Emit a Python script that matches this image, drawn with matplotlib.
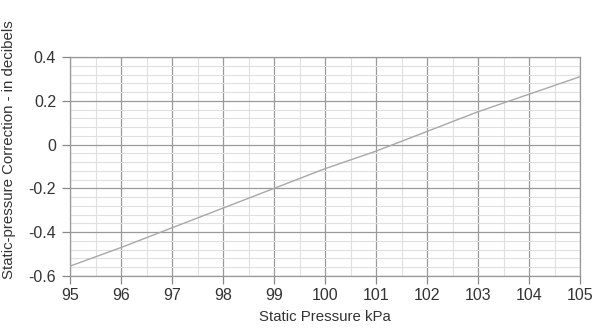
import matplotlib
matplotlib.use("Agg")
import matplotlib.pyplot as plt
from matplotlib.ticker import MultipleLocator

pressure = [95, 96, 97, 98, 99, 100, 101, 102, 103, 104, 105]
correction = [-0.555, -0.47, -0.38, -0.29, -0.20, -0.11, -0.03, 0.06, 0.15, 0.23, 0.31]
x_ticks = [95, 96, 97, 98, 99, 100, 101, 102, 103, 104, 105]
y_ticks = [-0.6, -0.4, -0.2, 0, 0.2, 0.4]
y_tick_labels = ["-0.6", "-0.4", "-0.2", "0", "0.2", "0.4"]

plt.rcParams['font.family'] = ['Liberation Sans', 'DejaVu Sans']
fig = plt.figure(figsize=(6.0, 3.31), dpi=100)
ax = fig.add_axes([70/600, 1-276/331, 510/600, 219/331])
ax.plot(pressure, correction, color='#a8a8a8', lw=1.0, zorder=3)
ax.set_xlim(95, 105)
ax.set_ylim(-0.6, 0.4)
ax.set_xticks(x_ticks)
ax.set_yticks(y_ticks)
ax.set_yticklabels(y_tick_labels)
ax.xaxis.set_minor_locator(MultipleLocator(0.5))
ax.yaxis.set_minor_locator(MultipleLocator(0.04))
ax.grid(which='major', color='#9a9a9a', lw=0.9)
ax.grid(which='minor', color='#e0e0e0', lw=0.8)
ax.set_axisbelow(True)
ax.tick_params(which='major', length=6, width=0.9, color='#888888', labelsize=11.5, labelcolor='#333333', pad=3)
ax.tick_params(axis='y', pad=4)
ax.tick_params(which='minor', length=0)
for s in ax.spines.values():
    s.set_color('#999999')
    s.set_linewidth(0.9)
ax.set_xlabel('Static Pressure kPa', fontsize=10.8, color='#333333', labelpad=5)
ax.set_ylabel('Static-pressure Correction - in decibels', fontsize=10.8, color='#333333')
ax.yaxis.set_label_coords(-0.106, 0.575)
fig.savefig('out.png', dpi=100)
